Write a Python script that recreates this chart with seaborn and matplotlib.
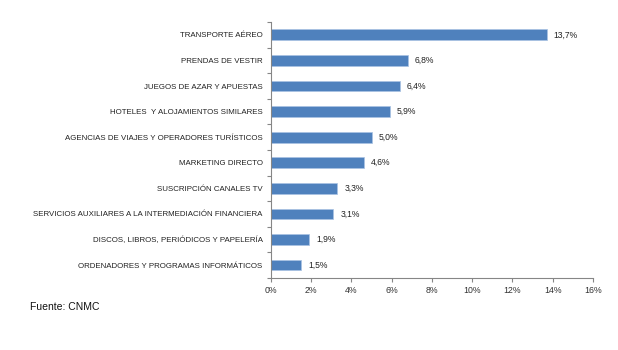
import matplotlib
matplotlib.use("Agg")
import matplotlib.pyplot as plt
import seaborn as sns
import pandas as pd
import numpy as np

categorias = [
    "TRANSPORTE AÉREO",
    "PRENDAS DE VESTIR",
    "JUEGOS DE AZAR Y APUESTAS",
    "HOTELES  Y ALOJAMIENTOS SIMILARES",
    "AGENCIAS DE VIAJES Y OPERADORES TURÍSTICOS",
    "MARKETING DIRECTO",
    "SUSCRIPCIÓN CANALES TV",
    "SERVICIOS AUXILIARES A LA INTERMEDIACIÓN FINANCIERA",
    "DISCOS, LIBROS, PERIÓDICOS Y PAPELERÍA",
    "ORDENADORES Y PROGRAMAS INFORMÁTICOS",
]
porcentajes = [13.7, 6.8, 6.4, 5.9, 5.0, 4.6, 3.3, 3.1, 1.9, 1.5]
ticks_x = [0, 2, 4, 6, 8, 10, 12, 14, 16]

sns.set_theme(style="white")
plt.rcParams["font.family"] = ["Liberation Sans", "DejaVu Sans"]

df = pd.DataFrame({"categoria": categorias, "valor": porcentajes})

fig = plt.figure(figsize=(6.18, 3.5), dpi=100)
ax = fig.add_axes([0.4385, 0.206, 0.521, 0.731])

sns.barplot(data=df, x="valor", y="categoria", orient="h", color="#4F81BD",
            saturation=1, width=0.42, edgecolor="#A9C2E3", linewidth=0.5, ax=ax)

gris = "#868686"
ax.set_xlim(0, 16)
ax.set_ylim(len(categorias) - 0.5, -0.5)
ax.set_xticks(ticks_x)
ax.set_xticklabels([f"{t}%" for t in ticks_x], fontsize=6.3, color="#333333")
ax.set_xlabel("")
ax.set_ylabel("")
ax.tick_params(axis="y", which="major", length=0, labelsize=5.65,
               labelcolor="#222222", pad=6)
ax.set_yticks(np.arange(-0.5, len(categorias), 1.0), minor=True)
ax.tick_params(axis="y", which="minor", length=3, color=gris, width=0.8, left=True)
ax.tick_params(axis="x", length=3, color=gris, width=0.8, bottom=True, pad=3)

for lado in ["top", "right"]:
    ax.spines[lado].set_visible(False)
for lado in ["left", "bottom"]:
    ax.spines[lado].set_color(gris)
    ax.spines[lado].set_linewidth(0.8)

for i, v in enumerate(porcentajes):
    ax.text(v + 0.35, i, f"{v:.1f}%".replace(".", ","), va="center", ha="left",
            fontsize=6.2, color="#222222")

fig.text(30 / 618, 1 - 307 / 350, "Fuente: CNMC", fontsize=7.5, color="#111111",
         va="center", ha="left")

fig.savefig("out.png", dpi=100, facecolor="white")
